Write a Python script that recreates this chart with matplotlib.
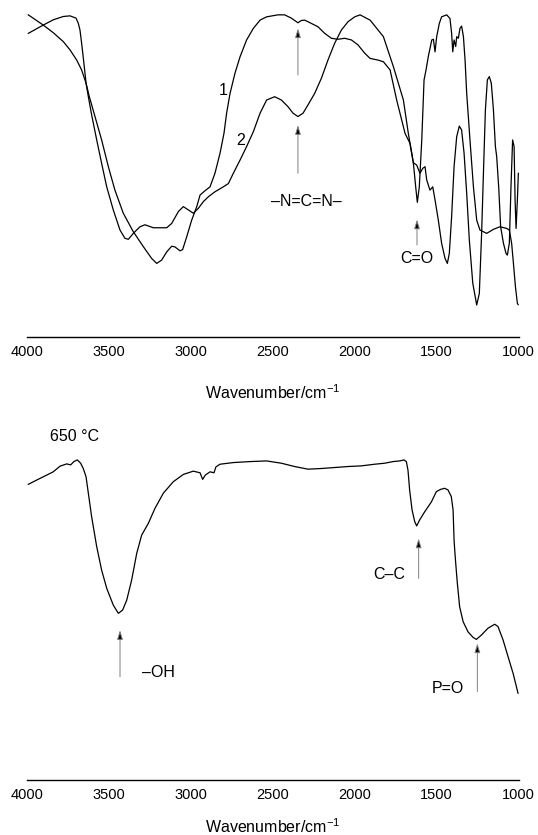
import matplotlib
matplotlib.use('Agg')
import matplotlib.pyplot as plt
import numpy as np

plt.rcParams['font.family'] = ['Liberation Sans', 'DejaVu Sans']
plt.rcParams['mathtext.fontset'] = 'custom'
plt.rcParams['mathtext.rm'] = 'Liberation Sans'
plt.rcParams['mathtext.default'] = 'regular'

# ---------------------------------------------------------------------------
# top panel, curve 1 (wavenumber cm-1, transmittance a.u.)
wn_1 = [3990, 3899, 3838, 3777, 3736, 3695, 3665, 3638, 3618, 3583, 3543, 3502,
        3462, 3411, 3350, 3289, 3238, 3207, 3177, 3146, 3116, 3096, 3065, 3049,
        3024, 2994, 2963, 2943, 2913, 2882, 2852, 2821, 2797, 2781, 2760, 2730,
        2699, 2659, 2618, 2577, 2537, 2468, 2427, 2386, 2346, 2325, 2305, 2264,
        2224, 2183, 2142, 2102, 2061, 2020, 1980, 1939, 1906, 1858, 1825, 1784,
        1744, 1693, 1663, 1642, 1628, 1618, 1606, 1591, 1577, 1565, 1551, 1530,
        1520, 1510, 1500, 1484, 1470, 1439, 1419, 1409, 1402, 1394, 1384, 1378,
        1368, 1358, 1348, 1337, 1327, 1317, 1297, 1276, 1256, 1236, 1195, 1155,
        1114, 1073, 1057, 1043, 1032, 1020, 1008, 1003]
tr_1 = [97.6, 94.5, 92.2, 89.5, 87.0, 83.9, 80.9, 76.9, 72.8, 66.7, 59.7, 51.6,
        44.5, 37.5, 31.9, 27.4, 23.8, 22.3, 23.3, 25.8, 27.5, 27.3, 26.1, 26.5,
        30.4, 35.4, 39.5, 43.0, 44.3, 45.5, 49.6, 55.7, 61.7, 67.8, 73.8, 79.9,
        84.9, 90.0, 93.5, 96.0, 97.0, 97.6, 97.6, 96.6, 95.2, 95.9, 96.0, 95.0,
        94.0, 92.0, 90.5, 90.2, 90.5, 90.0, 88.5, 86.0, 84.4, 83.9, 83.4, 80.9,
        71.8, 61.7, 58.7, 52.6, 45.5, 40.8, 45.5, 59.7, 77.9, 80.9, 85.0, 90.0,
        90.2, 86.4, 91.0, 95.0, 97.0, 97.6, 96.5, 92.0, 86.4, 90.0, 88.0, 91.0,
        90.5, 93.5, 94.2, 91.0, 83.9, 73.8, 59.7, 45.5, 35.4, 32.4, 31.4, 32.6,
        33.4, 32.9, 32.4, 28.4, 22.3, 15.3, 10.2, 9.8]

# top panel, curve 2
wn_2 = [3990, 3899, 3838, 3777, 3736, 3699, 3685, 3675, 3665, 3651, 3638, 3624,
        3604, 3573, 3543, 3512, 3472, 3431, 3401, 3380, 3350, 3309, 3279, 3228,
        3187, 3146, 3116, 3075, 3045, 3014, 2984, 2953, 2923, 2892, 2852, 2801,
        2770, 2740, 2699, 2659, 2618, 2577, 2537, 2488, 2447, 2407, 2376, 2346,
        2315, 2285, 2244, 2203, 2163, 2122, 2081, 2041, 2000, 1967, 1906, 1825,
        1764, 1703, 1673, 1642, 1622, 1602, 1585, 1571, 1561, 1541, 1524, 1510,
        1490, 1470, 1449, 1435, 1423, 1409, 1394, 1378, 1362, 1348, 1333, 1317,
        1301, 1280, 1256, 1240, 1226, 1215, 1203, 1191, 1179, 1167, 1154, 1142,
        1134, 1122, 1110, 1093, 1077, 1069, 1057, 1047, 1037, 1028, 1022, 1016,
        1008, 1002]
tr_2 = [92.0, 94.5, 96.1, 97.1, 97.3, 96.6, 95.0, 93.0, 89.0, 82.9, 76.9, 72.8,
        67.3, 59.7, 52.6, 45.5, 38.5, 32.4, 29.9, 29.6, 31.4, 33.4, 34.0, 33.1,
        33.1, 33.1, 34.4, 38.0, 39.5, 38.5, 37.5, 39.0, 41.0, 42.5, 44.0, 45.5,
        46.5, 49.6, 53.6, 57.7, 62.2, 67.8, 71.8, 72.8, 71.8, 69.8, 67.8, 66.8,
        67.8, 70.3, 73.8, 78.4, 83.9, 89.0, 93.0, 95.5, 97.0, 97.6, 96.0, 91.0,
        81.9, 71.8, 61.7, 52.8, 52.1, 49.6, 51.1, 51.6, 47.6, 44.5, 45.5, 41.5,
        35.4, 28.4, 23.8, 22.3, 25.3, 36.4, 51.6, 60.7, 63.9, 62.7, 55.7, 43.5,
        29.4, 16.3, 9.7, 13.2, 31.4, 49.6, 68.8, 77.9, 78.9, 76.9, 68.8, 57.7,
        54.6, 45.5, 33.4, 28.4, 25.3, 24.8, 28.4, 45.5, 59.7, 57.7, 41.5, 32.9,
        41.5, 49.6]

# bottom panel, 650 °C
wn_650 = [3990, 3939, 3878, 3838, 3797, 3756, 3732, 3712, 3691, 3671, 3655, 3638,
          3624, 3604, 3573, 3543, 3512, 3472, 3441, 3415, 3390, 3360, 3329, 3299,
          3258, 3218, 3167, 3106, 3045, 2984, 2943, 2927, 2911, 2882, 2858, 2846,
          2821, 2740, 2638, 2537, 2447, 2366, 2285, 2203, 2122, 2041, 1959, 1878,
          1817, 1766, 1725, 1699, 1685, 1675, 1665, 1650, 1634, 1622, 1604, 1573,
          1532, 1502, 1475, 1451, 1431, 1411, 1400, 1394, 1390, 1384, 1374, 1360,
          1339, 1309, 1278, 1258, 1228, 1187, 1146, 1126, 1095, 1065, 1034, 1014,
          1004]
tr_650 = [89.6, 90.9, 92.4, 93.4, 95.1, 95.8, 95.5, 96.5, 97.0, 96.0, 94.4, 91.9,
          86.9, 79.8, 70.7, 63.6, 58.1, 53.0, 50.5, 51.5, 54.5, 60.6, 68.7, 74.2,
          77.8, 82.3, 86.9, 90.4, 92.6, 93.6, 93.1, 91.1, 92.4, 93.4, 93.1, 94.9,
          95.7, 96.2, 96.5, 96.7, 96.0, 95.0, 94.2, 94.4, 94.7, 95.0, 95.2, 95.7,
          96.0, 96.5, 96.7, 97.0, 96.5, 93.9, 87.9, 81.8, 78.3, 77.0, 78.8, 81.3,
          84.3, 87.4, 88.1, 88.4, 87.9, 85.9, 81.8, 72.7, 69.7, 65.7, 59.6, 52.5,
          48.0, 44.9, 43.2, 42.6, 43.9, 46.0, 47.2, 46.5, 42.4, 37.4, 32.3, 28.3,
          26.3]

xticks = [4000, 3500, 3000, 2500, 2000, 1500, 1000]

fig = plt.figure(figsize=(5.38, 8.35), dpi=100)
ax1 = fig.add_axes([0.0496, 0.5964, 0.9145, 0.4036])
ax2 = fig.add_axes([0.0496, 0.0659, 0.9145, 0.4311])

for ax, lp in ((ax1, 17), (ax2, 11)):
    ax.set_xlim(4000, 1000)
    ax.set_xticks(xticks)
    ax.set_yticks([])
    for side in ('top', 'left', 'right'):
        ax.spines[side].set_visible(False)
    ax.spines['bottom'].set_linewidth(1.0)
    ax.tick_params(axis='x', length=0, pad=6, labelsize=10.5)
    ax.set_xlabel('Wavenumber/cm$^{\u22121}$', fontsize=11.5, labelpad=lp)
    ax.patch.set_alpha(0)

ax1.set_ylim(0, 102.1)
ax2.set_ylim(0, 109.1)

ax1.plot(wn_1, tr_1, color='black', lw=0.9)
ax1.plot(wn_2, tr_2, color='black', lw=0.9)
ax2.plot(wn_650, tr_650, color='black', lw=0.9)

arrow = dict(arrowstyle='-|>,head_length=0.55,head_width=0.17', fc='black', ec='0.5',
             lw=0.7, shrinkA=0, shrinkB=0)
fs = 11.5

# top annotations
ax1.text(2801, 74.8, '1', fontsize=fs, ha='center', va='center')
ax1.text(2695, 59.5, '2', fontsize=fs, ha='center', va='center')
ax1.annotate('', xy=(2346, 93.5), xytext=(2346, 79.4), arrowprops=arrow)
ax1.annotate('', xy=(2346, 64.2), xytext=(2346, 49.6), arrowprops=arrow)
ax1.text(2295, 41.0, '\u2013N=C=N\u2013', fontsize=fs, ha='center', va='center')
ax1.annotate('', xy=(1620, 35.6), xytext=(1620, 27.9), arrowprops=arrow)
ax1.text(1620, 23.8, 'C=O', fontsize=fs, ha='center', va='center')

# bottom annotations
ax2.text(3860, 104.2, '650 \u00b0C', fontsize=fs, ha='left', va='center')
ax2.annotate('', xy=(3431, 45.4), xytext=(3431, 31.3), arrowprops=arrow)
ax2.text(3299, 32.6, '\u2013OH', fontsize=fs, ha='left', va='center')
ax2.annotate('', xy=(1610, 73.2), xytext=(1610, 61.1), arrowprops=arrow)
ax2.text(1787, 62.3, 'C\u2013C', fontsize=fs, ha='center', va='center')
ax2.annotate('', xy=(1252, 41.4), xytext=(1252, 26.8), arrowprops=arrow)
ax2.text(1431, 27.8, 'P=O', fontsize=fs, ha='center', va='center')

fig.savefig('out.png', dpi=100)
